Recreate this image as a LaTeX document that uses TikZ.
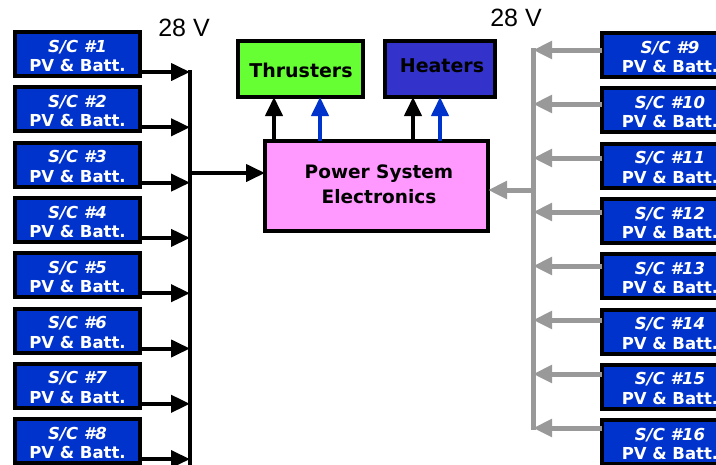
\documentclass[tikz,border=0pt]{standalone}
\usepackage{fontspec}
\setmainfont{DejaVu Sans}
\newfontfamily\labfont{Liberation Sans}
\usetikzlibrary{arrows.meta,calc}
\definecolor{scblue}{RGB}{0,51,204}
\definecolor{thrgreen}{RGB}{102,255,51}
\definecolor{heatblue}{RGB}{51,51,204}
\definecolor{psepink}{RGB}{255,153,255}
\definecolor{arrgray}{RGB}{153,153,153}
\tikzset{
  scbox/.style={draw=black, line width=4pt, fill=scblue, text=white, inner sep=0pt, outer sep=0pt,
    minimum height=44pt, align=center, anchor=north west,
    font=\bfseries\fontsize{16.5}{19.5}\selectfont},
  lbox/.style={scbox, minimum width=125pt},
  rbox/.style={scbox, minimum width=136pt},
  bigbox/.style={draw=black, line width=4pt, inner sep=0pt, outer sep=0pt, anchor=north west},
  bigtext/.style={inner sep=0pt, align=center, font=\bfseries\fontsize{19}{24}\selectfont},
  tip/.style={-{Triangle[length=19pt,width=17pt]}},
  blkarr/.style={tip, draw=black, line width=4pt},
  bluarr/.style={tip, draw=scblue, line width=4pt},
  gryarr/.style={tip, draw=arrgray, line width=5pt},
  volt/.style={font=\labfont\fontsize{25}{28}\selectfont, inner sep=0pt}
}
\newcommand{\sclabel}[1]{\rule{0pt}{16pt}\textit{S/C \##1}\\PV \& Batt.}
\begin{document}
\begin{tikzpicture}[x=1pt,y=-1pt]
\useasboundingbox (0,0) rectangle (716,464);
\clip (0,0) rectangle (716,464);
\fill[white] (0,0) rectangle (716,464);

% voltage labels
\node[volt] (v1) at (184,28) {28 V};
\node[volt] (v2) at (516,18) {28 V};

% central boxes
\node[bigbox, fill=psepink, minimum width=223pt, minimum height=90pt] (P) at (265,141) {};
\node[bigtext, font=\bfseries\fontsize{18.5}{25}\selectfont] (Ptext) at (379,184) {Power System\\Electronics};
\node[bigbox, fill=thrgreen, minimum width=125pt, minimum height=56pt] (T) at (238,41) {};
\node[bigtext] (Ttext) at (301,70) {Thrusters};
\node[bigbox, fill=heatblue, minimum width=110pt, minimum height=56pt] (H) at (385,41) {};
\node[bigtext] (Htext) at (442,66) {Heaters};

% up arrows
\coordinate (u1) at (274,141);
\coordinate (u2) at (320,141);
\coordinate (u3) at (413,141);
\coordinate (u4) at (440,141);
\draw[blkarr] (u1) -- (u1 |- T.south);
\draw[bluarr] (u2) -- (u2 |- T.south);
\draw[blkarr] (u3) -- (u3 |- H.south);
\draw[bluarr] (u4) -- (u4 |- H.south);

% left side
\coordinate (busL) at (190,70);
\coordinate (busLend) at (190,470);
\draw[line width=4pt] (busL) -- (busLend);
\foreach \i in {1,...,8}{
  \pgfmathsetmacro{\yy}{32+55.3*(\i-1)}
  \node[lbox] (L\i) at (15,\yy) {\sclabel{\i}};
  \coordinate (a\i) at ($(L\i.south east)+(0,-4)$);
  \draw[blkarr] (a\i) -- (a\i -| busL);
}
\coordinate (bin) at (190,173);
\draw[blkarr] (bin) -- (bin -| P.west);

% right side
\coordinate (busR) at (533,48);
\coordinate (busRend) at (533,430);
\draw[draw=arrgray, line width=5pt] (busR) -- (busRend);
\foreach \j in {9,...,16}{
  \pgfmathsetmacro{\yy}{33+55.3*(\j-9)}
  \pgfmathsetmacro{\ya}{50+54*(\j-9)}
  \node[rbox] (R\j) at (602,\yy) {\sclabel{\j}};
  \coordinate (g\j) at (602,\ya);
  \draw[gryarr] (g\j) -- (g\j -| busR);
}
\coordinate (gin) at (533,190);
\draw[gryarr] (gin) -- (gin -| P.east);
\end{tikzpicture}
\end{document}
